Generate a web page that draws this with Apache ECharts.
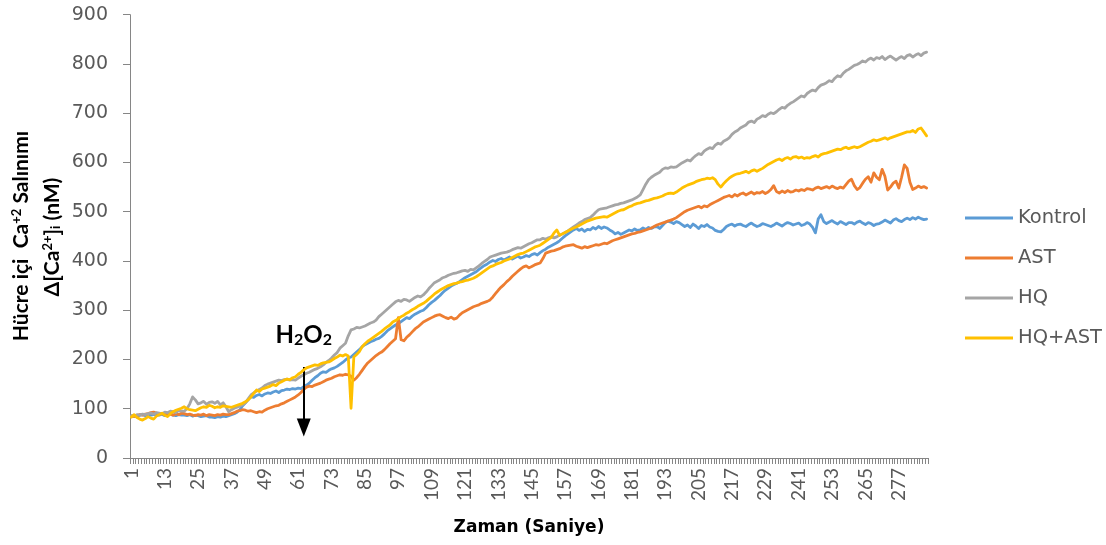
<!DOCTYPE html>
<html>
<head>
<meta charset="utf-8">
<script src="https://cdn.jsdelivr.net/npm/echarts@6/dist/echarts.min.js"></script>
<style>
  html, body { margin: 0; padding: 0; background: #ffffff; }
  #chart { width: 1106px; height: 545px; }
</style>
</head>
<body>
<div id="chart"></div>
<script>
// Time points in seconds (1 ... 287)
const seconds = Array.from({ length: 287 }, (_, k) => String(k + 1));

// Y axis ticks (nM)
const yTicks = [0, 100, 200, 300, 400, 500, 600, 700, 800, 900];

const seriesNames = ['Kontrol', 'AST', 'HQ', 'HQ+AST'];

// Δ[Ca2+]i readings (nM)
const kontrol = [
  85, 86, 84, 87, 88, 86, 89, 87, 88, 88,
  87, 89, 86, 88, 90, 87, 86, 88, 87, 87,
  86, 88, 85, 87, 86, 84, 85, 86, 83, 83,
  82, 84, 83, 85, 84, 86, 88, 90, 93, 98,
  106, 112, 118, 125, 123, 127, 129, 126, 130, 132,
  131, 134, 136, 133, 137, 138, 140, 139, 141, 140,
  142, 141, 145, 148, 152, 158, 163, 167, 172, 175,
  174, 178, 181, 183, 186, 190, 194, 199, 203, 205,
  210, 215, 220, 226, 230, 233, 236, 238, 241, 243,
  247, 252, 258, 262, 266, 270, 273, 277, 281, 285,
  283, 288, 292, 295, 298, 300, 305, 311, 316, 320,
  325, 330, 336, 341, 345, 349, 352, 355, 358, 362,
  366, 369, 372, 375, 378, 383, 387, 391, 394, 398,
  401, 399, 403, 405, 402, 405, 408, 404, 407, 410,
  406, 408, 411, 409, 413, 415, 412, 417, 421, 424,
  428, 431, 434, 437, 441, 446, 451, 455, 459, 463,
  466, 462, 465, 460, 464, 463, 468, 465, 470, 466,
  469, 467, 463, 460, 455, 458, 454, 457, 460, 463,
  461, 465, 462, 463, 467, 464, 468, 466, 469, 470,
  466, 472, 478, 481, 479, 476, 480, 478, 474, 470,
  473, 468, 475, 471, 466, 472, 470, 474, 469, 467,
  462, 460, 459, 464, 470, 473, 475, 471, 474, 475,
  472, 470, 474, 477, 473, 470, 472, 476, 474, 472,
  470, 473, 477, 474, 471, 475, 478, 476, 473, 475,
  477, 472, 474, 478, 475, 468, 457, 485, 494, 480,
  476, 479, 482, 478, 475, 480, 477, 474, 478, 478,
  475, 479, 481, 477, 474, 478, 476, 472, 475, 476,
  479, 483, 480, 477, 483, 486, 482, 480, 484, 487,
  484, 488, 485, 489, 486, 484, 485
];

const ast = [
  85, 84, 86, 88, 87, 89, 90, 92, 93, 91,
  89, 90, 88, 91, 89, 87, 90, 88, 91, 90,
  88, 89, 87, 86, 88, 87, 89, 86, 88, 87,
  86, 88, 87, 89, 88, 88, 90, 92, 95, 96,
  98, 97, 95, 96, 94, 92, 94, 93, 97, 100,
  102, 104, 106, 107, 110, 112, 115, 118, 121, 124,
  128, 133, 139, 144, 146, 145, 148, 150, 152, 155,
  158, 160, 162, 165, 167, 169, 168, 170, 169, 166,
  158, 163, 170, 178, 186, 193, 198, 203, 208, 212,
  215, 220, 226, 232, 237, 242, 285, 240, 238, 245,
  250, 256, 262, 266, 271, 276, 279, 282, 285, 288,
  290, 291, 288, 285, 283, 286, 282, 284, 290, 295,
  298, 301, 304, 307, 309, 311, 314, 316, 318, 321,
  327, 334, 341, 347, 352, 358, 363, 369, 374, 379,
  384, 388, 390, 386, 389, 392, 394, 396, 405, 416,
  418, 420, 421, 423, 425, 428, 430, 431, 432, 433,
  430, 428, 426, 429, 427, 429, 431, 433, 432, 434,
  436, 435, 438, 441, 443, 445, 447, 449, 451, 453,
  455, 456, 458, 459, 461, 463, 465, 467, 470, 473,
  475, 477, 479, 481, 483, 485, 488, 492, 496, 500,
  503, 505, 507, 509, 511, 508, 512, 510, 514, 517,
  520, 523, 526, 529, 531, 533, 530, 535, 532, 536,
  538, 534, 537, 540, 536, 539, 538, 541, 537, 540,
  545, 553, 541, 538, 542, 539, 543, 540, 541, 544,
  542, 545, 543, 547, 546, 544, 548, 550, 547, 549,
  551, 548, 552, 549, 547, 550, 548, 555, 562, 566,
  553, 545, 549, 558, 566, 571, 560, 579, 570, 565,
  586, 572, 544, 550, 558, 562, 548, 570, 595, 588,
  560, 545, 548, 552, 549, 551, 548
];

const hq = [
  86, 85, 88, 87, 89, 88, 90, 91, 89, 92,
  91, 90, 93, 92, 95, 94, 92, 96, 95, 95,
  100, 110, 124, 118, 110, 112, 115, 109, 113, 114,
  111, 115, 108, 112, 104, 94, 98, 101, 103, 105,
  108, 112, 120, 128, 132, 136, 139, 142, 147, 150,
  152, 154, 156, 158, 157, 159, 160, 158, 159, 158,
  162, 166, 169, 172, 174, 177, 180, 182, 185, 189,
  194, 198, 203, 209, 214, 223, 228, 233, 248, 260,
  262, 265, 264, 266, 268, 271, 274, 276, 280, 287,
  292, 297, 302, 307, 312, 317, 320, 318, 322, 321,
  318, 322, 326, 329, 327, 331, 337, 344, 350, 356,
  359, 362, 366, 368, 371, 373, 375, 376, 378, 380,
  381, 379, 383, 382, 386, 390, 395, 399, 403, 408,
  410, 412, 414, 416, 417, 418, 420, 423, 425, 427,
  426, 429, 432, 435, 437, 440, 443, 443, 446, 444,
  447, 449, 447, 449, 452, 455, 458, 461, 465, 469,
  473, 477, 480, 484, 486, 488, 493, 499, 504, 506,
  507, 508, 510, 512, 514, 515, 517, 518, 520, 522,
  524, 527, 530, 534, 545, 556, 565, 570, 574, 577,
  580, 586, 589, 588, 591, 590, 591, 595, 599, 602,
  605, 603, 609, 614, 618, 616, 623, 627, 630, 628,
  635, 639, 637, 643, 646, 650, 657, 662, 665, 670,
  673, 676, 682, 684, 681, 688, 691, 695, 693, 698,
  701, 699, 703, 708, 712, 710, 716, 720, 723, 727,
  731, 735, 733, 740, 744, 747, 745, 752, 757, 759,
  762, 766, 764, 771, 776, 774, 781, 786, 789, 793,
  797, 799, 802, 806, 804, 809, 812, 808, 813, 811,
  815, 809, 813, 816, 812, 808, 812, 815, 811, 817,
  819, 814, 818, 821, 817, 822, 824
];

const hqAst = [
  83, 88, 82, 79, 77, 80, 84, 81, 79, 85,
  88, 91, 87, 84, 90, 94, 97, 99, 101, 104,
  100, 98, 97, 96, 99, 102, 104, 103, 107, 105,
  102, 104, 103, 106, 105, 104, 103, 105, 107, 109,
  111, 114, 118, 124, 131, 138, 135, 140, 142, 144,
  146, 149, 147, 152, 155, 158, 160, 159, 163, 165,
  170, 174, 179, 183, 185, 187, 189, 188, 191, 193,
  194, 195, 198, 202, 205, 209, 207, 210, 207, 101,
  205, 210, 216, 226, 232, 237, 241, 245, 249, 253,
  257, 262, 266, 270, 276, 279, 283, 287, 290, 294,
  297, 301, 304, 308, 311, 314, 318, 323, 328, 333,
  337, 341, 344, 347, 350, 352, 354, 355, 357, 358,
  360, 361, 363, 365, 368, 372, 376, 380, 384, 388,
  390, 393, 395, 397, 400, 402, 404, 407, 410, 413,
  415, 416, 419, 422, 425, 428, 430, 432, 436, 440,
  444, 448, 457, 463, 452, 455, 458, 461, 464, 467,
  469, 472, 475, 478, 481, 483, 485, 487, 488, 489,
  490, 489, 492, 495, 498, 501, 503, 504, 507, 510,
  512, 515, 517, 518, 520, 522, 523, 525, 527, 528,
  530, 532, 535, 537, 538, 537, 540, 544, 548, 551,
  554, 556, 558, 561, 563, 565, 566, 568, 567, 569,
  565, 556, 550, 557, 563, 568, 572, 575, 577, 578,
  580, 582, 579, 583, 585, 582, 585, 588, 592, 596,
  599, 602, 605, 607, 604, 608, 610, 607, 611, 612,
  609, 611, 608, 610, 609, 612, 614, 611, 616, 618,
  619, 621, 623, 625, 627, 626, 629, 631, 628, 630,
  632, 630, 632, 635, 638, 641, 643, 646, 644, 646,
  648, 650, 647, 650, 652, 654, 656, 658, 660, 662,
  662, 665, 661, 668, 670, 662, 654
];

const seriesColors = ['#5B9BD5', '#ED7D31', '#A5A5A5', '#FFC000'];

// H2O2 addition marker: time point and arrow extent (nM)
const h2o2Time = '63';
const h2o2From = 185;
const h2o2To = 62;

const axisGray = '#868686';
const labelGray = '#595959';
const humanist = 'Lato, "Open Sans", "DejaVu Sans", sans-serif';
const wide = '"DejaVu Sans", Verdana, sans-serif';

const chart = echarts.init(document.getElementById('chart'), null, { renderer: 'canvas' });

const valueSets = [kontrol, ast, hq, hqAst];

const series = valueSets.map((vals, idx) => ({
  name: seriesNames[idx],
  type: 'line',
  data: vals,
  showSymbol: false,
  symbol: 'none',
  smooth: false,
  lineStyle: { width: 2.8, color: seriesColors[idx], join: 'round', cap: 'round' },
  itemStyle: { color: seriesColors[idx] },
  z: 2 + idx
}));

// arrow marking the H2O2 addition
series[0].markLine = {
  silent: true,
  animation: false,
  symbol: ['none', 'triangle'],
  symbolSize: [14, 18],
  lineStyle: { color: '#000000', width: 2, type: 'solid' },
  label: {
    show: true,
    position: 'start',
    distance: 19,
    formatter: 'H{s|2}O{s|2}',
    color: '#000000',
    fontFamily: humanist,
    fontWeight: 'bold',
    fontSize: 24,
    rich: {
      s: { fontSize: 16, fontWeight: 'bold', fontFamily: humanist, color: '#000000', verticalAlign: 'bottom', padding: [10, 0, 0, 0] }
    }
  },
  data: [[{ coord: [h2o2Time, h2o2From] }, { coord: [h2o2Time, h2o2To] }]]
};

const option = {
  animation: false,
  backgroundColor: '#ffffff',
  grid: { left: 130, right: 178, top: 14.7, bottom: 87, containLabel: false, outerBoundsMode: 'none' },
  legend: {
    data: seriesNames,
    orient: 'vertical',
    left: 965,
    top: 207,
    padding: 0,
    itemGap: 18,
    itemWidth: 48,
    itemHeight: 3,
    icon: 'rect',
    textStyle: { color: labelGray, fontFamily: wide, fontSize: 19.5, lineHeight: 22 }
  },
  xAxis: {
    type: 'category',
    data: seconds,
    boundaryGap: true,
    name: 'Zaman (Saniye)',
    nameLocation: 'middle',
    nameGap: 61,
    nameMoveOverlap: false,
    nameTextStyle: { color: '#000000', fontFamily: wide, fontWeight: 'bold', fontSize: 17, verticalAlign: 'top' },
    axisLine: { show: true, lineStyle: { color: axisGray, width: 1 } },
    axisTick: { show: true, interval: 0, length: 6, alignWithLabel: false, lineStyle: { color: axisGray, width: 1 } },
    axisLabel: { interval: 11, rotate: 90, margin: 10, color: labelGray, fontFamily: humanist, fontSize: 19 },
    splitLine: { show: false }
  },
  yAxis: {
    type: 'value',
    min: yTicks[0],
    max: yTicks[yTicks.length - 1],
    interval: yTicks[1] - yTicks[0],
    axisLine: { show: true, lineStyle: { color: axisGray, width: 1 } },
    axisTick: { show: true, length: 7, lineStyle: { color: axisGray, width: 1 } },
    axisLabel: { margin: 22, color: labelGray, fontFamily: wide, fontSize: 19 },
    splitLine: { show: false }
  },
  graphic: [
    {
      type: 'text',
      x: 21,
      y: 236,
      rotation: Math.PI / 2,
      style: {
        text: 'Hücre içi  Ca{sup|+2} Salınımı',
        fill: '#000000',
        fontFamily: humanist,
        fontWeight: 'bold',
        fontSize: 21,
        align: 'center',
        verticalAlign: 'middle',
        rich: {
          sup: { fontFamily: humanist, fontWeight: 'bold', fontSize: 13, fill: '#000000', verticalAlign: 'top' }
        }
      }
    },
    {
      type: 'text',
      x: 52,
      y: 237,
      rotation: Math.PI / 2,
      style: {
        text: 'Δ[Ca{sup|2+}]{sub|i} (nM)',
        fill: '#000000',
        fontFamily: humanist,
        fontWeight: 'bold',
        fontSize: 21,
        align: 'center',
        verticalAlign: 'middle',
        rich: {
          sup: { fontFamily: humanist, fontWeight: 'bold', fontSize: 13, fill: '#000000', verticalAlign: 'top' },
          sub: { fontFamily: humanist, fontWeight: 'bold', fontSize: 13, fill: '#000000', verticalAlign: 'bottom' }
        }
      }
    }
  ],
  series: series
};

chart.setOption(option);
</script>
</body>
</html>
